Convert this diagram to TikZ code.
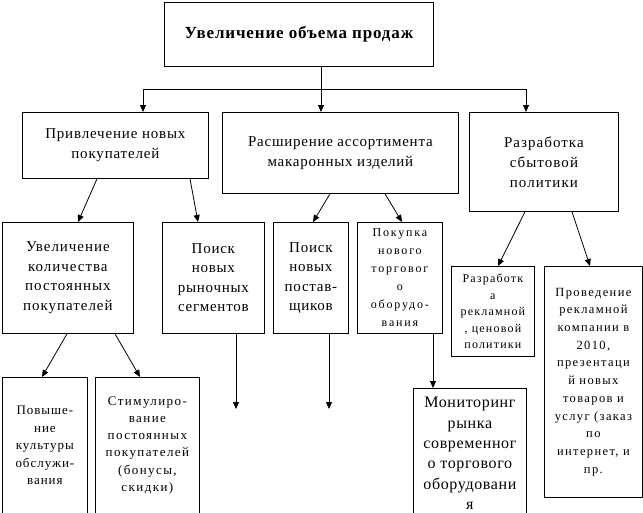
\documentclass[tikz,border=0pt]{standalone}
\usepackage{fontspec}
\setmainfont{Liberation Serif}
\usetikzlibrary{arrows.meta}
\newcommand{\fsz}[3]{\fontsize{#1}{#2}\selectfont\addfontfeature{LetterSpace=#3}}
\begin{document}
\begin{tikzpicture}[x=1pt,y=-1pt,
  box/.style={draw, line width=0.8pt, anchor=north west, inner sep=0pt, align=center},
  arr/.style={line width=0.8pt, -{Triangle[length=7pt,width=6pt]}},
  ln/.style={line width=0.8pt}]
\clip (0,0) rectangle (643,512);
\fill[white] (0,0) rectangle (643,512);
% level 1
\node[box, minimum width=269pt, minimum height=64pt, font=\bfseries\fsz{17}{20}{5}] (top) at (164,2) {Увеличение объема продаж};
% level 2
\node[box, font=\fsz{15}{20}{5.5}, minimum width=186pt, minimum height=66pt] (A) at (22,112) {Привлечение новых\\покупателей};
\node[box, font=\fsz{15}{20}{5}, minimum width=236pt, minimum height=81pt] (B) at (222,112) {Расширение ассортимента\\макаронных изделий};
\node[box, font=\fsz{15}{20}{7}, minimum width=149pt, minimum height=99pt] (C) at (469,112) {Разработка\\сбытовой\\политики};
% level 3
\node[box, font=\fsz{15}{19.5}{6.5}, minimum width=131pt, minimum height=111pt] (D) at (2,222) {Увеличение\\количества\\постоянных\\покупателей};
\node[box, font=\fsz{15}{19.5}{5}, minimum width=102pt, minimum height=111pt] (E) at (162,222) {Поиск\\новых\\рыночных\\сегментов};
\node[box, font=\fsz{15}{19.5}{5}, minimum width=75pt, minimum height=111pt] (F) at (273,222) {Поиск\\новых\\постав-\\щиков};
\node[box, font=\fsz{12}{18}{15}, minimum width=85pt, minimum height=111pt] (G) at (357,222) {Покупка\\нового\\торговог\\о\\оборудо-\\вания};
\node[box, font=\fsz{12}{16.5}{10}, minimum width=83pt, minimum height=90pt] (H) at (451,266) {Разработк\\а\\рекламной\\, ценовой\\политики};
\node[box, font=\fsz{12.5}{17.7}{11}, minimum width=98pt, minimum height=231pt] (I) at (544,266) {Проведение\\рекламной\\компании в\\2010,\\презентаци\\й новых\\товаров и\\услуг (заказ\\по\\интернет, и\\пр.};
% level 4
\node[box, font=\fsz{16}{20.3}{4}, minimum width=113pt, minimum height=130pt] (J) at (413,388) {Мониторинг\\рынка\\современног\\о торгового\\оборудовани\\я};
\node[box, font=\fsz{13}{17.5}{7.5}, minimum width=85pt, minimum height=136pt] (K) at (2,377) {Повыше-\\ние\\культуры\\обслужи-\\вания};
\node[box, font=\fsz{13}{17.2}{11}, minimum width=104pt, minimum height=136pt] (L) at (95,377) {Стимулиро-\\вание\\постоянных\\покупателей\\(бонусы,\\скидки)};
% bus
\coordinate (bus) at (321,89);
\coordinate (bA) at (143,89);
\coordinate (bC) at (526,89);
\draw[ln] (top.south -| bus) -- (bus);
\draw[ln] (bA) -- (bC);
\draw[arr] (bA) -- (bA |- A.north);
\draw[arr] (bus) -- (bus |- B.north);
\draw[arr] (bC) -- (bC |- C.north);
% from A
\draw[arr] (A.south -| 97,0) -- (D.north -| 78,0);
\draw[arr] (A.south -| 190,0) -- (E.north -| 198,0);
% from B
\draw[arr] (B.south -| 330,0) -- (F.north -| 313,0);
\draw[arr] (B.south -| 385,0) -- (G.north -| 402,0);
% from C
\draw[arr] (C.south -| 525,0) -- (H.north -| 498,0);
\draw[arr] (C.south -| 572,0) -- (I.north -| 590,0);
% from D
\draw[arr] (D.south -| 67,0) -- (K.north -| 42,0);
\draw[arr] (D.south -| 115,0) -- (L.north -| 140,0);
% free ends
\coordinate (eE) at (236,409);
\coordinate (eF) at (329,409);
\draw[arr] (E.south -| eE) -- (eE);
\draw[arr] (F.south -| eF) -- (eF);
% from G
\draw[arr] (G.south -| 433,0) -- (J.north -| 433,0);
\end{tikzpicture}
\end{document}
